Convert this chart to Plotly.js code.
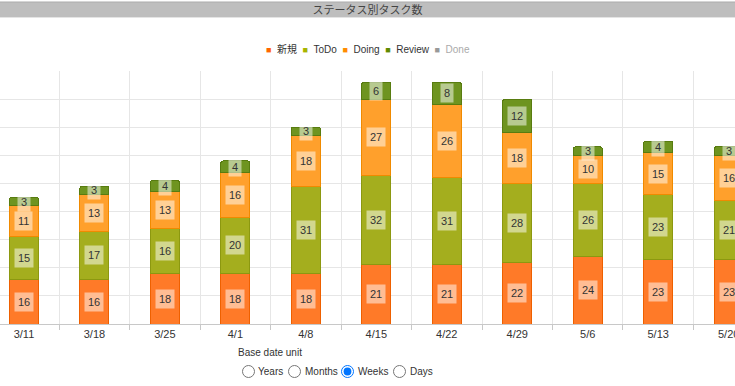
<!DOCTYPE html>
<html><head><meta charset="utf-8">
<script src="https://cdn.plot.ly/plotly-3.0.1.min.js"></script>
<style>
html,body{margin:0;padding:0;background:#fff;overflow:hidden;}
#chart{position:absolute;left:0;top:0;width:735px;height:386px;}
#ctrl{position:absolute;left:0;top:0;font-family:"Liberation Sans",Arial,sans-serif;font-size:10px;color:#333;}
#ctrl .lbl{position:absolute;white-space:nowrap;}
#ctrl input{position:absolute;margin:0;width:13px;height:13px;}
</style></head>
<body>
<div id="chart"></div>
<div id="ctrl">
  <span class="lbl" style="left:238px;top:347px;">Base date unit</span>
  <input type="radio" name="u" style="left:242px;top:365px;"><span class="lbl" style="left:258px;top:366px;">Years</span>
  <input type="radio" name="u" style="left:288px;top:365px;"><span class="lbl" style="left:305px;top:366px;">Months</span>
  <input type="radio" name="u" checked style="left:341px;top:365px;"><span class="lbl" style="left:358px;top:366px;">Weeks</span>
  <input type="radio" name="u" style="left:393px;top:365px;"><span class="lbl" style="left:410px;top:366px;">Days</span>
</div>
<script>
const categories = ["3/11","3/18","3/25","4/1","4/8","4/15","4/22","4/29","5/6","5/13","5/20"];
const newValues    = [16,16,18,18,18,21,21,22,24,23,23];
const todoValues   = [15,17,16,20,31,32,31,28,26,23,21];
const doingValues  = [11,13,13,16,18,27,26,18,10,15,16];
const reviewValues = [3,3,4,4,3,6,8,12,3,4,3];
const seriesNames  = ["新規","ToDo","Doing","Review","Done"];

const fills  = ["#FF7A28","#A4AE1E","#FFA02C","#6E9420"];
const lines  = ["#EE6000","#8C9810","#F08A00","#587C10"];
const legendColors = ["#FF6600","#A8B400","#FF8C00","#5F8A00","#999999"];
const seriesValues = [newValues, todoValues, doingValues, reviewValues];

const FONT = '"Liberation Sans", Arial, "Noto Sans CJK JP", sans-serif';

const traces = seriesValues.map((vals, i) => ({
  type: "bar",
  name: seriesNames[i],
  x: categories,
  y: vals,
  marker: {color: fills[i], line: {color: lines[i], width: 1}},
  hoverinfo: "x+y+name"
}));

const annotations = [];
const base = categories.map(() => 0);
seriesValues.forEach((vals) => {
  categories.forEach((c, j) => {
    annotations.push({
      x: c, y: base[j] + vals[j] / 2, xref: "x", yref: "y",
      text: String(vals[j]), showarrow: false,
      font: {family: FONT, size: 11, color: "#333"},
      bgcolor: "rgba(255,255,255,0.5)", borderpad: 3
    });
    base[j] += vals[j];
  });
});

// legend row (Done is shown greyed out, as hidden)
const legendText = seriesNames.map((n, i) =>
  '<span style="color:' + legendColors[i] + ';font-size:9px">■</span>&nbsp;&nbsp;' +
  '<span style="color:' + (i === 4 ? '#aaaaaa' : '#333333') + '">' + n + '</span>'
).join('&nbsp;&nbsp;');
annotations.push({
  xref: "paper", yref: "paper", x: 0.5, y: 1 + 22/253, xanchor: "center", yanchor: "middle",
  text: legendText, showarrow: false, font: {family: FONT, size: 10, color: "#333"}
});

const layout = {
  width: 735, height: 386,
  margin: {l: 0, r: 0, t: 71, b: 62},
  paper_bgcolor: "#fff", plot_bgcolor: "#fff",
  font: {family: FONT, size: 11, color: "#333"},
  barmode: "stack",
  bargap: 0.59,
  barcornerradius: 2,
  showlegend: false,
  title: {text: "ステータス別タスク数", x: 0.5, xanchor: "center", xref: "paper",
          y: 1 - 10/386, yanchor: "middle", yref: "container",
          font: {family: FONT, size: 11, color: "#444"}},
  xaxis: {type: "category", range: [-0.34, 10.09], tickson: "boundaries",
          showgrid: true, gridcolor: "#e6e6e6", gridwidth: 1,
          ticks: "outside", ticklen: 5, tickcolor: "#c8c8c8",
          showline: true, linecolor: "#c8c8c8", linewidth: 1,
          tickfont: {family: FONT, size: 11, color: "#333"}, fixedrange: true},
  yaxis: {range: [0, 90], dtick: 10, showticklabels: false, showgrid: true,
          gridcolor: "#e6e6e6", gridwidth: 1, zeroline: false, fixedrange: true},
  shapes: [
    {type: "rect", xref: "paper", x0: 0, x1: 1, yref: "paper", ysizemode: "pixel",
     yanchor: 1, y0: 54, y1: 69, fillcolor: "#BEBEBE", line: {width: 0}, layer: "above"},
    {type: "line", xref: "paper", x0: 0, x1: 1, yref: "paper", ysizemode: "pixel",
     yanchor: 1, y0: 69, y1: 69, line: {color: "#ABABAB", width: 1}, layer: "above"},
    {type: "line", xref: "paper", x0: 0, x1: 1, yref: "paper", ysizemode: "pixel",
     yanchor: 1, y0: 53.5, y1: 53.5, line: {color: "#E4E4E4", width: 1}, layer: "above"}
  ],
  annotations: annotations
};

Plotly.newPlot("chart", traces, layout, {displayModeBar: false});
</script>
</body></html>
